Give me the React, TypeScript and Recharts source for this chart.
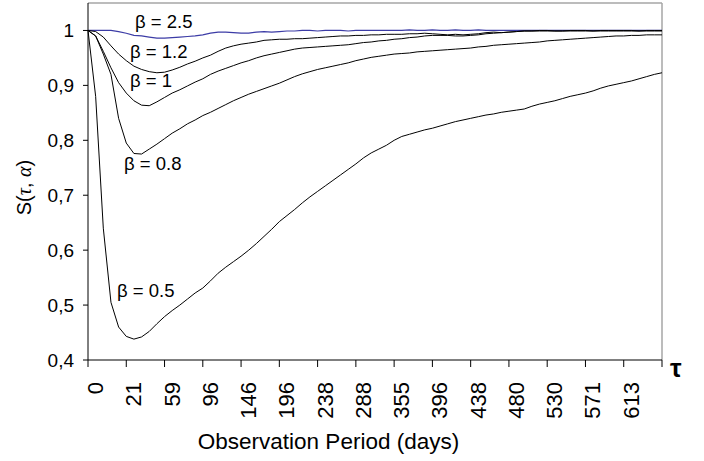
import React from "react";
import { LineChart, Line, XAxis, YAxis, ReferenceLine, Customized } from "recharts";

// Tick labels shown on the category axis (one every 5 observations)
const tickLabels = ["0", "21", "59", "96", "146", "196", "238", "288", "355", "396", "438", "480", "530", "571", "613"];
const TICK_EVERY = 5;

const beta05 = [
  1.0, 0.88, 0.64, 0.505, 0.46, 0.443, 0.438, 0.442, 0.452, 0.466,
  0.479, 0.49, 0.5, 0.511, 0.522, 0.531, 0.544, 0.558, 0.569, 0.579,
  0.589, 0.6, 0.612, 0.625, 0.638, 0.652, 0.663, 0.674, 0.686, 0.697,
  0.707, 0.717, 0.727, 0.737, 0.747, 0.757, 0.768, 0.777, 0.784, 0.791,
  0.8, 0.807, 0.811, 0.815, 0.819, 0.822, 0.826, 0.83, 0.834, 0.837,
  0.84, 0.843, 0.846, 0.848, 0.851, 0.853, 0.855, 0.857, 0.862, 0.866,
  0.869, 0.872, 0.876, 0.88, 0.883, 0.886, 0.89, 0.895, 0.899, 0.902,
  0.905, 0.908, 0.912, 0.916, 0.92, 0.923,
];
const beta08 = [
  1.0, 0.99, 0.957, 0.92, 0.84, 0.795, 0.776, 0.775, 0.784, 0.793,
  0.803, 0.813, 0.821, 0.83, 0.837, 0.845, 0.851, 0.858, 0.865, 0.872,
  0.878, 0.884, 0.889, 0.894, 0.899, 0.904, 0.91, 0.916, 0.921, 0.925,
  0.929, 0.932, 0.935, 0.938, 0.941, 0.945, 0.948, 0.951, 0.953, 0.955,
  0.957, 0.958, 0.959, 0.961, 0.962, 0.963, 0.964, 0.965, 0.966, 0.967,
  0.968, 0.97, 0.971, 0.973, 0.974, 0.975, 0.976, 0.977, 0.978, 0.979,
  0.981, 0.982, 0.983, 0.984, 0.985, 0.986, 0.987, 0.988, 0.989, 0.99,
  0.99, 0.991, 0.991, 0.992, 0.992, 0.992,
];
const beta10 = [
  1.0, 0.99, 0.962, 0.932, 0.905, 0.886, 0.872, 0.864, 0.863, 0.87,
  0.878, 0.886, 0.892, 0.899, 0.906, 0.912, 0.92, 0.926, 0.931, 0.936,
  0.941, 0.945, 0.95, 0.954, 0.957, 0.96, 0.963, 0.966, 0.968, 0.969,
  0.97, 0.971, 0.972, 0.973, 0.974, 0.976, 0.978, 0.979, 0.981, 0.982,
  0.984, 0.985, 0.987, 0.988, 0.99, 0.991, 0.991, 0.991, 0.99, 0.99,
  0.991, 0.992, 0.994, 0.995, 0.996, 0.997, 0.998, 0.999, 0.999, 0.999,
  0.999, 0.999, 0.999, 0.999, 0.999, 0.999, 0.999, 0.999, 0.999, 0.999,
  0.999, 0.999, 0.999, 0.999, 0.999, 0.999,
];
const beta12 = [
  1.0, 0.998, 0.988, 0.972, 0.957, 0.945, 0.935, 0.929, 0.925, 0.923,
  0.924, 0.928, 0.933, 0.939, 0.944, 0.95, 0.955, 0.962, 0.968, 0.972,
  0.975, 0.977, 0.979, 0.982, 0.983, 0.984, 0.984, 0.985, 0.985, 0.986,
  0.987, 0.988, 0.989, 0.99, 0.99, 0.991, 0.991, 0.992, 0.992, 0.993,
  0.993, 0.993, 0.994, 0.994, 0.995, 0.994, 0.993, 0.992, 0.993, 0.992,
  0.993, 0.994, 0.996, 0.997, 0.996, 0.997, 0.998, 0.999, 0.999, 1.0,
  1.0, 0.999, 0.999, 1.0, 1.0, 1.0, 0.999, 1.0, 1.0, 1.0,
  1.0, 1.0, 0.999, 1.0, 1.0, 1.0,
];
const beta25 = [
  1.0, 1.0, 1.0, 1.0, 0.998, 0.995, 0.991, 0.99, 0.988, 0.986,
  0.986, 0.987, 0.988, 0.989, 0.99, 0.992, 0.995, 0.997, 0.997, 0.996,
  0.995, 0.995, 0.997, 0.998, 0.997, 0.998, 0.999, 0.999, 1.0, 1.0,
  0.999, 1.0, 1.0, 1.0, 0.999, 1.0, 1.0, 1.0, 1.0, 1.0,
  1.0, 1.0, 1.001, 1.0, 1.0, 1.001, 1.0, 1.0, 1.001, 1.0,
  1.0, 1.001, 1.0, 1.0, 1.0, 1.0, 1.0, 1.0, 1.0, 1.0,
  1.0, 1.0, 1.0, 1.0, 1.0, 1.0, 1.0, 1.0, 1.0, 1.0,
  1.0, 1.0, 1.0, 1.0, 1.0, 1.0,
];

const yTicks = [0.4, 0.5, 0.6, 0.7, 0.8, 0.9, 1.0];

const rows = beta05.map((v, i) => ({
  i,
  b05: v,
  b08: beta08[i],
  b10: beta10[i],
  b12: beta12[i],
  b25: beta25[i],
}));
const lastIndex = rows.length - 1;
const xTicks = tickLabels.map((_, k) => k * TICK_EVERY).concat([lastIndex]);

const FONT = "'Liberation Sans', Arial, sans-serif";

const XTick = (props: any) => {
  const { x, y, payload } = props;
  const label = tickLabels[payload.value / TICK_EVERY] ?? "";
  const ax = x + 15;
  const ay = y + 15;
  return (
    <text
      x={ax}
      y={ay}
      transform={`rotate(-90, ${ax}, ${ay})`}
      textAnchor="end"
      fontSize={22}
      fontFamily={FONT}
      fill="#000"
    >
      {label}
    </text>
  );
};

const Annotations = () => (
  <g fontFamily={FONT} fill="#000">
    <text x={135} y={28} fontSize={18.5}>β = 2.5</text>
    <text x={130} y={57.5} fontSize={18.5}>β = 1.2</text>
    <text x={130} y={87} fontSize={18.5}>β = 1</text>
    <text x={124} y={169.5} fontSize={18.5}>β = 0.8</text>
    <text x={117} y={296.5} fontSize={18.5}>β = 0.5</text>
    <text x={328.5} y={449} fontSize={22.5} textAnchor="middle">Observation Period (days)</text>
    <text x={670} y={377} fontSize={26} fontWeight="bold">τ</text>
    <text
      x={31}
      y={187.5}
      fontSize={20}
      textAnchor="middle"
      transform="rotate(-90, 31, 187.5)"
    >
      {"S("}
      <tspan fontStyle="italic" fontFamily="'Liberation Serif', serif">τ</tspan>
      {", "}
      <tspan fontStyle="italic" fontFamily="'Liberation Serif', serif">α</tspan>
      {")"}
    </text>
  </g>
);

export default function App() {
  return (
    <div style={{ position: "absolute", left: 0, top: 0, width: 704, height: 461, background: "#fff" }}>
      <LineChart
        width={704}
        height={461}
        data={rows}
        margin={{ top: 3, right: 42, bottom: 0, left: 0 }}
      >
        <XAxis
          dataKey="i"
          type="number"
          domain={[0, lastIndex]}
          ticks={xTicks}
          interval={0}
          height={101}
          tickSize={7}
          tickMargin={0}
          tick={<XTick />}
          axisLine={{ stroke: "#000", strokeWidth: 1 }}
          tickLine={{ stroke: "#000", strokeWidth: 1 }}
        />
        <YAxis
          type="number"
          domain={[0.4, 1.05]}
          ticks={yTicks}
          interval={0}
          width={88}
          tickSize={5}
          tickMargin={9}
          allowDataOverflow
          tickFormatter={(v: number) => (v === 1 ? "1" : v.toFixed(1).replace(".", ","))}
          tick={{ fontSize: 19, fill: "#000", fontFamily: FONT }}
          axisLine={{ stroke: "#000", strokeWidth: 1 }}
          tickLine={{ stroke: "#000", strokeWidth: 1 }}
        />
        <ReferenceLine y={1.05} stroke="#a6a6a6" strokeWidth={1.5} />
        <ReferenceLine x={lastIndex} stroke="#a6a6a6" strokeWidth={1.5} />
        <Line dataKey="b25" type="linear" stroke="#3c3ca6" strokeWidth={1.2} dot={false} isAnimationActive={false} />
        <Line dataKey="b12" type="linear" stroke="#000" strokeWidth={1} dot={false} isAnimationActive={false} />
        <Line dataKey="b10" type="linear" stroke="#000" strokeWidth={1} dot={false} isAnimationActive={false} />
        <Line dataKey="b08" type="linear" stroke="#000" strokeWidth={1} dot={false} isAnimationActive={false} />
        <Line dataKey="b05" type="linear" stroke="#000" strokeWidth={1} dot={false} isAnimationActive={false} />
        <Customized component={Annotations} />
      </LineChart>
    </div>
  );
}
